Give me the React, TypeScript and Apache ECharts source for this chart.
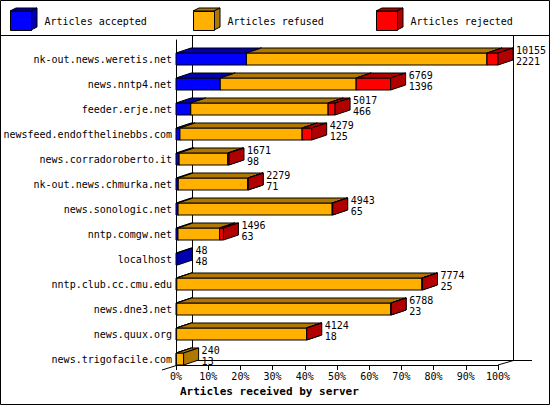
import React, { useEffect, useRef } from 'react';
import * as echarts from 'echarts';

// Servers, top to bottom, with their article counts
const servers = [
  'nk-out.news.weretis.net',
  'news.nntp4.net',
  'feeder.erje.net',
  'newsfeed.endofthelinebbs.com',
  'news.corradoroberto.it',
  'nk-out.news.chmurka.net',
  'news.sonologic.net',
  'nntp.comgw.net',
  'localhost',
  'nntp.club.cc.cmu.edu',
  'news.dne3.net',
  'news.quux.org',
  'news.trigofacile.com'
];
const totals = [10155, 6769, 5017, 4279, 1671, 2279, 4943, 1496, 48, 7774, 6788, 4124, 240];
const accepted = [2221, 1396, 466, 125, 98, 71, 65, 63, 48, 25, 23, 18, 13];
const refused = [7588, 4288, 4334, 3854, 1538, 2198, 4863, 1313, 0, 7734, 6755, 4098, 227];
const rejected = [346, 1085, 217, 300, 35, 10, 15, 120, 0, 15, 10, 8, 0];

const seriesNames = ['Articles accepted', 'Articles refused', 'Articles rejected'];
const frontColors = ['#0000ff', '#ffb000', '#ff0000'];
const darkColors = ['#0000b0', '#b07800', '#b00000'];
const legendLefts = [10, 193, 376];

const MONO = '"DejaVu Sans Mono", monospace';
const FACE_H = 12;
const DX = 15;
const DY = 5;

// 3D box for one stacked segment: front face, top face, right side
function segmentRenderer(front: string, dark: string) {
  return (params: any, api: any) => {
    const start = api.value(0);
    const end = api.value(1);
    const row = api.value(2);
    if (end - start <= 0) return null;
    const p0 = api.coord([start, row]);
    const p1 = api.coord([end, row]);
    const band = api.size([0, 1])[1];
    const bottom = p0[1] + band / 2;
    const top = bottom - FACE_H;
    const x0 = p0[0];
    const x1 = p1[0];
    const stroke = { stroke: '#000', lineWidth: 1 };
    return {
      type: 'group',
      children: [
        {
          type: 'polygon',
          shape: { points: [[x0, top], [x1, top], [x1, bottom], [x0, bottom]] },
          style: { fill: front, ...stroke }
        },
        {
          type: 'polygon',
          shape: { points: [[x0, top], [x0 + DX, top - DY], [x1 + DX, top - DY], [x1, top]] },
          style: { fill: dark, ...stroke }
        },
        {
          type: 'polygon',
          shape: { points: [[x1, top], [x1 + DX, top - DY], [x1 + DX, bottom - DY], [x1, bottom]] },
          style: { fill: dark, ...stroke }
        }
      ]
    };
  };
}

export default function App() {
  const chartRef = useRef<HTMLDivElement>(null);
  const chartInstance = useRef<echarts.ECharts | null>(null);

  useEffect(() => {
    if (!chartRef.current) return;
    document.body.style.margin = '0';

    chartInstance.current = echarts.init(chartRef.current, null, { renderer: 'svg' });

    const maxTotal = Math.max(...totals);
    const segments = [accepted, refused, rejected];

    // stack the segments by hand: [start, end, row]
    const stacked = segments.map((_, k) =>
      servers.map((__, i) => {
        let start = 0;
        for (let j = 0; j < k; j++) start += segments[j][i];
        return [start, start + segments[k][i], i];
      })
    );

    const barSeries: any[] = seriesNames.map((name, k) => ({
      name,
      type: 'custom',
      renderItem: segmentRenderer(frontColors[k], darkColors[k]),
      itemStyle: { color: frontColors[k] },
      encode: { x: [0, 1], y: 2 },
      data: stacked[k]
    }));

    const labelSeries = {
      name: 'labels',
      type: 'custom',
      z: 5,
      encode: { x: 0, y: 1 },
      data: servers.map((_, i) => [totals[i], i, accepted[i]]),
      renderItem: (params: any, api: any) => {
        const p = api.coord([api.value(0), api.value(1)]);
        const band = api.size([0, 1])[1];
        const top = p[1] + band / 2 - FACE_H;
        return {
          type: 'text',
          x: p[0] + 18,
          y: top + 2.5,
          style: {
            text: `${api.value(0)}\n${api.value(2)}`,
            fontFamily: MONO,
            fontSize: 10,
            lineHeight: 11,
            fill: '#000',
            align: 'left',
            verticalAlign: 'middle'
          }
        };
      }
    };

    const line = (x1: number, y1: number, x2: number, y2: number) => ({
      type: 'line',
      z: 0,
      shape: { x1, y1, x2, y2 },
      style: { stroke: '#000', lineWidth: 1 }
    });

    // little cubes beside the legend squares
    const legendCubes: any[] = [];
    legendLefts.forEach((l, k) => {
      const r = l + 21;
      legendCubes.push({
        type: 'polygon',
        shape: { points: [[l, 11], [l + 6, 8], [r + 6, 8], [r, 11]] },
        style: { fill: darkColors[k], stroke: '#000', lineWidth: 1 }
      });
      legendCubes.push({
        type: 'polygon',
        shape: { points: [[r, 11], [r + 6, 8], [r + 6, 27], [r, 30]] },
        style: { fill: darkColors[k], stroke: '#000', lineWidth: 1 }
      });
    });

    const option: any = {
      animation: false,
      backgroundColor: '#fff',
      title: {
        text: 'Articles received by server',
        left: 180,
        top: 386,
        padding: 0,
        textStyle: { fontFamily: MONO, fontSize: 11, fontWeight: 'bold', color: '#000' }
      },
      legend: seriesNames.map((name, k) => ({
        data: [name],
        left: legendLefts[k],
        top: 11,
        padding: 0,
        icon: 'rect',
        itemWidth: 21,
        itemHeight: 19,
        selectedMode: false,
        itemStyle: { borderColor: '#000', borderWidth: 1 },
        textStyle: { fontFamily: MONO, fontSize: 10, color: '#000', padding: [0, 0, 0, 8] }
      })),
      grid: { left: 176, top: 40, width: 322, height: 325, containLabel: false },
      xAxis: {
        type: 'value',
        min: 0,
        max: maxTotal,
        interval: maxTotal / 10,
        axisLine: { show: true, lineStyle: { color: '#000', width: 1 } },
        axisTick: { show: true, length: 5, lineStyle: { color: '#000' } },
        splitLine: { show: false },
        axisLabel: {
          margin: 6,
          fontFamily: MONO,
          fontSize: 10,
          color: '#000',
          formatter: (v: number) => Math.round((v / maxTotal) * 100) + '%'
        }
      },
      yAxis: {
        type: 'category',
        inverse: true,
        data: servers,
        axisLine: { show: true, lineStyle: { color: '#000', width: 1 } },
        axisTick: { show: false },
        splitLine: { show: false },
        axisLabel: {
          interval: 0,
          margin: 4,
          verticalAlign: 'top',
          lineHeight: 13,
          fontFamily: MONO,
          fontSize: 10,
          color: '#000'
        }
      },
      graphic: [
        // outer frame and legend separator
        {
          type: 'rect',
          z: 0,
          shape: { x: 0.5, y: 0.5, width: 549, height: 404 },
          style: { fill: 'none', stroke: '#000', lineWidth: 1 }
        },
        line(0, 35.5, 550, 35.5),
        // back wall and floor
        line(192.5, 35.5, 192.5, 360.5),
        line(513.5, 35.5, 513.5, 360.5),
        line(192.5, 360.5, 532, 360.5),
        line(162, 370, 192.5, 360.5),
        line(498, 365, 513.5, 360.5),
        ...legendCubes
      ],
      series: [...barSeries, labelSeries]
    };

    chartInstance.current.setOption(option);

    return () => {
      chartInstance.current?.dispose();
    };
  }, []);

  return <div ref={chartRef} style={{ width: '550px', height: '405px' }} />;
}
